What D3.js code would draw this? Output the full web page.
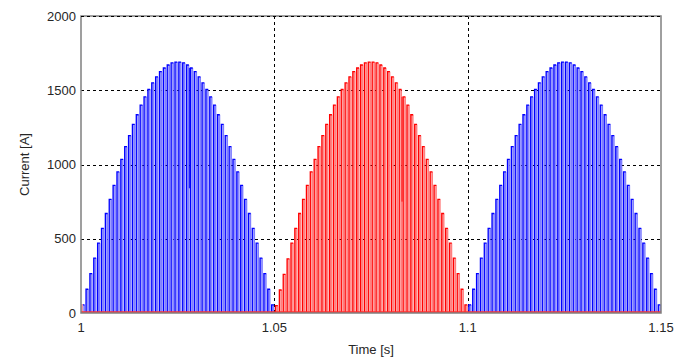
<!DOCTYPE html>
<html><head><meta charset="utf-8">
<script src="https://cdn.jsdelivr.net/npm/d3@7"></script>
<style>body{margin:0;background:#fff}svg{display:block}text{font-family:"Liberation Sans",Arial,sans-serif}</style>
</head><body>
<script>
// Data
const xTicks = [1, 1.05, 1.1, 1.15];
const xTickLabels = ["1", "1.05", "1.1", "1.15"];
const yTicks = [0, 500, 1000, 1500, 2000];
const yTickLabels = ["0", "500", "1000", "1500", "2000"];
const halfCycleStart = [1.0, 1.05, 1.1];           // start time of each half cycle [s]
const halfCycleSeries = ["blue", "red", "blue"];
const pulsePeriod = 0.001;                          // switching period [s]
const pulseOn = 0.0006;                             // on-time of a pulse [s]
// Pulse peak currents [A], one per switching period
const blue1 = [55,160,265,370,470,570,670,765,860,950,1035,1120,1195,1270,1335,1400,1455,1505,1550,1590,1625,1650,1670,1685,1690,1690,1685,1670,1650,1625,1590,1550,1505,1455,1400,1335,1270,1195,1120,1035,950,860,765,670,570,470,370,265,160,55];
const red1  = [50,155,260,365,470,570,670,765,860,950,1035,1120,1195,1270,1335,1400,1455,1505,1550,1590,1625,1650,1670,1685,1690,1690,1685,1670,1650,1625,1590,1550,1505,1455,1400,1335,1270,1195,1120,1035,950,860,765,670,570,470,370,265,160,55];
const blue2 = [55,160,265,370,470,570,670,765,860,950,1035,1120,1195,1270,1335,1400,1455,1505,1550,1590,1625,1650,1670,1685,1690,1690,1685,1670,1650,1625,1590,1550,1505,1455,1400,1335,1270,1195,1120,1035,950,860,765,670,570,470,370,265,160,55];
// Gaps where the current did not fall to zero: pulse index and the lowest value [A]
const notchIdx = [[27], [32], []];
const notchVal = [[840], [750], []];
// Small tail of the previous red half cycle at t = 1
const redTailStart = [0.9995];
const redTailValue = [60];

const W = 676, H = 361;
const m = {l: 81, r: 15, t: 16, b: 48};
const svg = d3.select("body").append("svg").attr("width", W).attr("height", H);
const x = d3.scaleLinear().domain([1, 1.15]).range([m.l, W - m.r]);
const y = d3.scaleLinear().domain([0, 2000]).range([H - m.b, m.t]);

const colors = {blue: {line: "#0000ff", fill: "#a0a0ff"}, red: {line: "#ff0000", fill: "#ffa0a0"}};

svg.append("clipPath").attr("id", "c").append("rect")
  .attr("x", x(1)).attr("y", y(2000)).attr("width", x(1.15) - x(1)).attr("height", y(0) - y(2000));

// grid
const grid = svg.append("g").attr("stroke", "#000").attr("stroke-width", 1).attr("stroke-dasharray", "3,3");
xTicks.slice(1, -1).forEach(t => grid.append("line").attr("x1", Math.round(x(t)) + 0.5).attr("x2", Math.round(x(t)) + 0.5).attr("y1", y(0)).attr("y2", y(2000)));
yTicks.slice(1).forEach(t => grid.append("line").attr("y1", Math.round(y(t)) + 0.5).attr("y2", Math.round(y(t)) + 0.5).attr("x1", x(1)).attr("x2", x(1.15)));

const plot = svg.append("g").attr("clip-path", "url(#c)");
const seriesData = [blue1, red1, blue2];

function drawPulse(g, t0, v, c) {
  const x0 = x(t0), x1 = x(t0 + pulseOn);
  g.append("rect").attr("x", x0).attr("y", y(v)).attr("width", x1 - x0).attr("height", y(0) - y(v))
    .attr("fill", c.fill);
  g.append("path").attr("d", `M${x0},${y(0)}V${y(v)}H${x1}`)
    .attr("fill", "none").attr("stroke", c.line).attr("stroke-width", 1.3);
  g.append("path").attr("d", `M${x1},${y(v)}V${y(0)}`)
    .attr("fill", "none").attr("stroke", c.line).attr("stroke-opacity", 0.5).attr("stroke-width", 0.8);
}

seriesData.forEach((vals, k) => {
  const c = colors[halfCycleSeries[k]];
  const g = plot.append("g");
  vals.forEach((v, i) => drawPulse(g, halfCycleStart[k] + i * pulsePeriod + 0.0003, v, c));
  notchIdx[k].forEach((idx, j) => {
    const t0 = halfCycleStart[k] + idx * pulsePeriod + 0.0003 + pulseOn;
    const t1 = halfCycleStart[k] + (idx + 1) * pulsePeriod + 0.0003;
    const hi = Math.min(vals[idx], vals[idx + 1]);
    g.append("rect").attr("x", x(t0)).attr("width", Math.max(1, x(t1) - x(t0)) * 0.6)
      .attr("y", y(hi)).attr("height", y(notchVal[k][j]) - y(hi)).attr("fill", c.line);
  });
});
// red tail at t=1
redTailStart.forEach((t, i) => {
  plot.append("rect").attr("x", x(1)).attr("width", x(t + pulsePeriod) - x(1))
    .attr("y", y(redTailValue[i])).attr("height", y(0) - y(redTailValue[i])).attr("fill", colors.red.fill);
});
// zero level of the red current
plot.append("line").attr("x1", x(1)).attr("x2", x(1.15)).attr("y1", y(0) - 0.5).attr("y2", y(0) - 0.5)
  .attr("stroke", "#ff3030").attr("stroke-width", 2.5);

// frame
svg.append("rect").attr("x", x(1)).attr("y", y(2000)).attr("width", x(1.15) - x(1)).attr("height", y(0) - y(2000))
  .attr("fill", "none").attr("stroke", "#808080").attr("stroke-width", 1.5);
svg.append("line").attr("x1", x(1)).attr("x2", x(1.15)).attr("y1", y(2000)+0.5).attr("y2", y(2000)+0.5)
  .attr("stroke", "#000").attr("stroke-dasharray", "3,3");

// axes labels
const tick = svg.append("g").attr("fill", "#262626").attr("font-size", 13);
yTicks.forEach((t, i) => tick.append("text").attr("x", x(1) - 5).attr("y", y(t) + 4.5)
  .attr("text-anchor", "end").text(yTickLabels[i]));
xTicks.forEach((t, i) => tick.append("text").attr("x", x(t)).attr("y", y(0) + 19)
  .attr("text-anchor", "middle").text(xTickLabels[i]));
tick.append("text").attr("x", (x(1) + x(1.15)) / 2).attr("y", H - 7).attr("text-anchor", "middle").text("Time [s]");
tick.append("text").attr("transform", `translate(29,${(y(0) + y(2000)) / 2}) rotate(-90)`)
  .attr("text-anchor", "middle").text("Current [A]");
</script>
</body></html>
